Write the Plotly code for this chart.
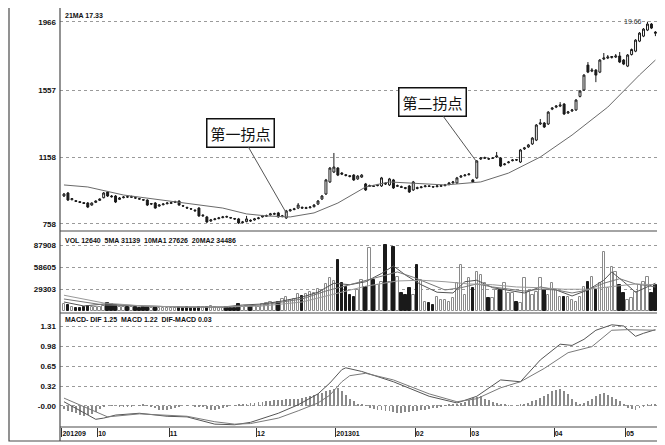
import plotly.graph_objects as go
from plotly.subplots import make_subplots

# ---------------- data ----------------
opens = [925,943,903,897,891,885,883,871,887,899,915,949,925,925,905,915,921,917,915,909,
         903,901,877,883,865,873,879,881,887,895,867,857,849,841,853,806,800,776,784,790,
         796,802,796,790,788,766,772,780,782,790,800,804,812,816,824,802,794,836,844,853,
         857,851,855,861,877,907,937,1009,1068,1092,1062,1052,1046,1050,1027,1038,997,983,985,987,
         985,1001,991,1021,983,981,975,985,961,975,975,981,985,981,981,983,987,993,1003,1003,
         1038,1046,1052,1021,1033,1146,1150,1148,1150,1158,1152,1112,1124,1136,1142,1128,1206,1218,1236,1259,
         1355,1361,1355,1444,1456,1462,1474,1421,1433,1439,1520,1558,1707,1671,1677,1665,1743,1749,1752,1755,
         1761,1737,1701,1770,1790,1850,1880,1916,1952,1904]
highs = [943,949,913,901,895,889,889,887,899,911,949,955,931,931,919,925,925,927,919,913,
         907,905,883,889,877,883,889,891,897,899,871,861,853,845,859,816,806,788,794,800,
         806,808,800,794,794,776,806,786,794,800,812,814,824,826,830,812,842,848,854,883,
         863,861,865,877,901,931,1027,1098,1182,1098,1068,1056,1050,1056,1050,1056,1003,993,991,997,
         1039,1007,1033,1027,993,987,979,991,1015,981,985,991,989,985,991,993,997,1009,1015,1039,
         1050,1056,1062,1027,1140,1158,1160,1152,1158,1188,1158,1122,1134,1146,1146,1206,1218,1236,1277,1355,
         1385,1367,1432,1456,1468,1486,1480,1433,1445,1504,1558,1653,1725,1689,1683,1743,1779,1767,1761,1773,
         1785,1743,1773,1806,1862,1904,1928,1966,1958,1910]
lows = [919,895,899,889,883,877,853,867,883,895,911,919,915,883,901,911,913,913,907,903,
        897,865,871,849,861,869,875,877,883,867,861,849,843,831,800,800,764,770,780,786,
        792,796,790,782,758,762,768,770,778,786,796,800,808,812,796,798,788,832,840,847,
        849,847,851,857,871,901,931,1003,1062,1044,1050,1042,1036,1015,1021,1033,955,979,979,983,
        979,991,985,967,979,973,965,943,955,965,971,977,979,975,977,979,983,989,999,997,
        1033,1042,1048,1003,1027,1140,1146,1140,1146,1152,1098,1108,1120,1132,1134,1122,1200,1212,1230,1253,
        1349,1331,1349,1438,1450,1456,1409,1415,1427,1433,1514,1552,1659,1665,1605,1659,1737,1743,1746,1749,
        1719,1707,1695,1764,1784,1844,1874,1910,1922,1880]
closes = [937,901,909,893,887,881,859,883,895,907,943,925,921,889,913,919,919,921,913,907,
          901,871,879,853,871,877,883,885,891,871,865,853,847,837,806,810,770,782,788,794,
          800,800,794,788,764,770,788,776,788,794,806,808,818,820,800,806,836,842,848,871,
          853,855,859,871,895,925,1021,1092,1098,1050,1056,1048,1042,1021,1044,1050,961,987,983,991,
          1033,997,1027,973,987,977,971,949,1009,971,979,985,983,979,985,987,991,1003,1009,1033,
          1044,1050,1056,1009,1134,1152,1154,1146,1152,1164,1104,1116,1128,1140,1140,1200,1212,1230,1271,1349,
          1361,1337,1426,1450,1462,1468,1415,1427,1439,1498,1552,1647,1665,1677,1647,1737,1749,1755,1758,1761,
          1725,1713,1767,1800,1856,1898,1922,1952,1928,1898]

volumes = [9000,8000,5000,4000,4000,5000,7000,5000,5500,6000,7000,
           10000,9000,8000,6000,6000,5000,5000,5000,4500,5000,
           6000,4000,6000,4000,4000,4500,4500,4000,5000,4500,
           5000,4000,4500,6000,5000,6000,7000,5000,4500,4500,
           5000,4500,4000,9000,6000,7000,5500,7000,6000,9000,
           10000,12000,11000,12000,16000,18000,15000,16000,22000,20000,
           22000,25000,24000,29000,28000,36000,44000,40000,68000,37000,
           32000,21000,19000,28000,41000,32000,84000,41000,35000,39000,
           88000,39000,85000,45000,24000,21000,31000,21000,61000,41000,
           12000,11000,8000,19000,15000,15000,12000,17000,37000,61000,
           21000,44000,31000,52000,48000,37000,17000,17000,28000,28000,
           37000,24000,24000,12000,11000,44000,25000,21000,25000,44000,
           28000,21000,37000,28000,19000,19000,19000,15000,12000,19000,
           32000,38000,45000,28000,37000,79000,31000,59000,52000,35000,
           24000,15000,17000,25000,35000,39000,45000,24000,35000]

macd_hist = [-0.05,-0.08,-0.10,-0.12,-0.15,-0.16,-0.15,-0.13,-0.10,-0.05,
             -0.02,0.0,0.01,0.0,-0.01,-0.02,-0.02,-0.01,0.0,0.01,0.02,
             0.01,-0.02,-0.04,-0.06,-0.07,-0.06,-0.05,-0.04,-0.02,0.0,0.01,0.0,-0.01,-0.02,-0.02,
             -0.05,-0.06,-0.06,-0.05,-0.03,-0.01,0.0,0.01,0.02,0.03,
             0.04,0.05,0.05,0.06,0.07,0.08,0.09,0.10,0.10,0.10,0.11,0.11,0.12,0.12,0.13,
             0.15,0.17,0.18,0.20,0.22,0.24,
             0.26,0.28,0.30,0.24,0.18,0.12,0.08,0.04,0.02,0.01,
             -0.03,-0.05,-0.06,-0.07,-0.08,-0.09,-0.10,-0.11,-0.11,-0.10,-0.10,-0.09,-0.08,-0.07,-0.06,-0.05,-0.04,-0.03,-0.02,
             0.01,0.02,0.03,0.04,0.05,0.07,0.10,0.13,0.15,0.16,0.12,
             0.10,0.07,0.05,0.03,0.02,0.01,
             0.0,0.01,0.02,0.03,
             0.05,0.08,0.10,0.13,0.16,0.20,0.24,0.27,0.28,0.25,0.20,0.12,
             0.06,0.04,0.05,0.08,
             0.12,0.17,0.20,0.21,0.18,0.15,0.12,0.08,0.04,
             -0.03,-0.05,-0.06,-0.04,-0.02,
             0.02,0.04,0.03]

ma_idx = [0,6,15,23,31,37,40,46,51,57,63,69,76,82,88,96,105,112,120,128,137,142,145,149]
ma_val = [991,979,931,907,883,865,853,818,806,800,824,883,979,1009,1003,991,1009,1062,1158,1289,1456,1576,1648,1737]

vma5_idx = [0,5,10,15,20,30,40,45,50,55,60,64,68,72,76,80,83,86,90,94,98,101,104,108,112,116,120,124,128,132,136,138,141,144,149]
vma5_val = [12000,6700,9300,8000,6700,5300,5300,8000,9300,13300,18600,25000,37000,35000,39000,50000,60000,48000,35000,25000,24000,39000,41000,31000,28000,24000,32000,28000,20000,28000,41000,52000,39000,25000,37000]
vma10_idx = [0,10,20,30,40,50,60,66,72,78,84,88,92,96,100,104,108,112,116,120,124,128,132,136,140,144,149]
vma10_val = [16000,8000,6700,5300,5300,8000,16000,26600,35000,44000,52000,45000,37000,28000,31000,36000,32000,29000,26600,29000,28000,24000,28000,37000,43000,36000,32000]
vma20_idx = [0,10,20,30,40,50,60,68,76,84,90,96,102,108,114,120,126,132,138,144,149]
vma20_val = [21000,10700,6700,5300,5300,6700,12000,22600,33000,40000,41000,39000,36000,35000,32000,31000,29000,29000,33000,36000,35000]

dif_idx = [0,4,8,10,13,19,26,31,38,43,47,54,59,64,67,70,71,75,83,92,99,104,110,115,120,125,128,131,134,138,141,144,146,149]
dif_val = [0.07,-0.08,-0.22,-0.20,-0.15,-0.12,-0.17,-0.18,-0.30,-0.31,-0.27,-0.12,0.02,0.20,0.38,0.60,0.63,0.57,0.40,0.16,0.05,0.16,0.43,0.40,0.76,1.02,1.00,1.10,1.25,1.34,1.32,1.15,1.20,1.26]
dea_idx = [0,4,8,11,19,26,31,38,43,47,54,59,64,67,70,72,76,83,92,99,104,110,115,121,127,133,138,142,149]
dea_val = [0.13,0.02,-0.10,-0.18,-0.13,-0.15,-0.17,-0.26,-0.30,-0.29,-0.20,-0.08,0.05,0.18,0.40,0.50,0.54,0.43,0.20,0.07,0.12,0.30,0.40,0.62,0.88,0.98,1.25,1.26,1.25]

month_start = [0, 9, 27, 49, 69, 89, 103, 124, 142]
month_labels = ["201209", "10", "11", "12", "201301", "02", "03", "04", "05"]

price_ticks = [758, 1158, 1557, 1966]
price_tick_text = ["758", "1158", "1557", "1966"]
vol_ticks = [29303, 58605, 87908]
macd_ticks = [0.0, 0.32, 0.65, 0.98, 1.31]
macd_tick_text = ["-0.00", "0.32", "0.65", "0.98", "1.31"]

# ---------------- figure ----------------
n = len(closes)
idx = list(range(n))
up = [c >= o for o, c in zip(opens, closes)]

fig = make_subplots(rows=3, cols=1, shared_xaxes=True, vertical_spacing=0)

fig.add_trace(go.Candlestick(
    x=idx, open=opens, high=highs, low=lows, close=closes,
    increasing=dict(line=dict(color="#1a1a1a", width=1), fillcolor="white"),
    decreasing=dict(line=dict(color="#1a1a1a", width=1), fillcolor="#1a1a1a"),
    whiskerwidth=0, showlegend=False, hoverinfo="skip"), row=1, col=1)
fig.add_trace(go.Scatter(x=ma_idx, y=ma_val, mode="lines", line=dict(color="#6a6a6a", width=1),
                         showlegend=False, hoverinfo="skip"), row=1, col=1)

fig.add_trace(go.Bar(
    x=idx, y=volumes, width=0.62,
    marker=dict(color=["white" if u else "#1a1a1a" for u in up],
                line=dict(color=["#8a8a8a" if u else "#1a1a1a" for u in up], width=1)),
    showlegend=False, hoverinfo="skip"), row=2, col=1)
for xs, ys, col in [(vma5_idx, vma5_val, "#555555"), (vma10_idx, vma10_val, "#777777"),
                    (vma20_idx, vma20_val, "#999999")]:
    fig.add_trace(go.Scatter(x=xs, y=ys, mode="lines", line=dict(color=col, width=1),
                             showlegend=False, hoverinfo="skip"), row=2, col=1)

fig.add_trace(go.Bar(x=idx, y=macd_hist, width=0.22, marker=dict(color="#8a8a8a", line=dict(width=0)),
                     showlegend=False, hoverinfo="skip"), row=3, col=1)
fig.add_trace(go.Scatter(x=dif_idx, y=dif_val, mode="lines", line=dict(color="#555555", width=1),
                         showlegend=False, hoverinfo="skip"), row=3, col=1)
fig.add_trace(go.Scatter(x=dea_idx, y=dea_val, mode="lines", line=dict(color="#7a7a7a", width=1),
                         showlegend=False, hoverinfo="skip"), row=3, col=1)

# Page body adds an 8px offset; reference plot area: x 60..657 px, y 12..427 px
H = 415.0
def py(ypx):
    return (427 - ypx) / H

def px(xpx):
    return (xpx - 60) / 597.0

tickfont = dict(family="Arial", size=8, color="#111", weight="bold")
grid = dict(showgrid=True, gridcolor="#9a9a9a", griddash="dot", gridwidth=1, zeroline=False,
            ticks="", tickfont=tickfont, ticklabelstandoff=3, fixedrange=True)

fig.update_yaxes(domain=[py(231), 1.0], range=[716, 2024], tickvals=price_ticks,
                 ticktext=price_tick_text, row=1, col=1, **grid)
fig.update_yaxes(domain=[py(313), py(231)], range=[-2664, 106560], tickvals=vol_ticks,
                 ticktext=[str(v) for v in vol_ticks], row=2, col=1, **grid)
fig.update_yaxes(domain=[0, py(313)], range=[-0.347, 1.535], tickvals=macd_ticks,
                 ticktext=macd_tick_text, row=3, col=1, **grid)

fig.update_xaxes(range=[-1.0, 149.4], showgrid=False, zeroline=False, rangeslider_visible=False,
                 showticklabels=False, fixedrange=True)
fig.update_xaxes(row=3, col=1, showticklabels=True,
                 tickvals=[m - 0.5 for m in month_start], ticktext=month_labels,
                 ticks="outside", ticklen=9, tickcolor="#333", tickwidth=1,
                 ticklabelposition="outside right", tickfont=dict(family="Arial", size=7, color="#111", weight="bold"))

line_c = "#4a4a4a"
shapes = [
    dict(type="rect", xref="paper", yref="paper", x0=px(9), x1=px(658), y0=py(441), y1=py(6),
         line=dict(color=line_c, width=1.2)),
    dict(type="line", xref="paper", yref="paper", x0=0, x1=0, y0=py(441), y1=py(6),
         line=dict(color=line_c, width=1.2)),
    dict(type="line", xref="paper", yref="paper", x0=0, x1=1, y0=py(231), y1=py(231),
         line=dict(color=line_c, width=1.2)),
    dict(type="line", xref="paper", yref="paper", x0=0, x1=1, y0=py(313), y1=py(313),
         line=dict(color=line_c, width=1.2)),
    dict(type="line", xref="paper", yref="paper", x0=0, x1=1, y0=0, y1=0,
         line=dict(color=line_c, width=1.2)),
]

small = dict(family="Arial", size=7, color="#111", weight="bold")
annotations = [
    dict(text="21MA 17.33", xref="paper", yref="paper", x=px(63), y=py(15),
         xanchor="left", yanchor="middle", showarrow=False, font=small),
    dict(text="VOL 12640  5MA 31139  10MA1 27626  20MA2 34486", xref="paper", yref="paper",
         x=px(63), y=py(240), xanchor="left", yanchor="middle", showarrow=False, font=small),
    dict(text="MACD- DIF 1.25  MACD 1.22  DIF-MACD 0.03", xref="paper", yref="paper",
         x=px(63), y=py(319), xanchor="left", yanchor="middle", showarrow=False, font=small),
    dict(text="19.66", xref="x", yref="y", x=147, y=1966, xanchor="right", yanchor="middle",
         xshift=-3, showarrow=False, font=dict(family="Arial", size=7, color="#333")),
    dict(text="第一拐点", xref="x", yref="y", x=56, y=824, ax=-46, ay=-80,
         showarrow=True, arrowhead=0, arrowwidth=1, arrowcolor="#555",
         font=dict(family="Noto Sans CJK SC", size=15, color="#111"),
         bordercolor="#111", borderwidth=1.5, borderpad=3, bgcolor="white"),
    dict(text="第二拐点", xref="x", yref="y", x=104, y=1128, ax=-44, ay=-60,
         showarrow=True, arrowhead=0, arrowwidth=1, arrowcolor="#555",
         font=dict(family="Noto Sans CJK SC", size=15, color="#111"),
         bordercolor="#111", borderwidth=1.5, borderpad=3, bgcolor="white"),
]

fig.update_layout(
    width=657, height=437,
    margin=dict(l=52, r=8, t=4, b=18),
    paper_bgcolor="white", plot_bgcolor="white",
    showlegend=False, bargap=0,
    shapes=shapes, annotations=annotations,
    font=dict(family="Arial", color="#111"),
)

fig.write_html("out.html")
